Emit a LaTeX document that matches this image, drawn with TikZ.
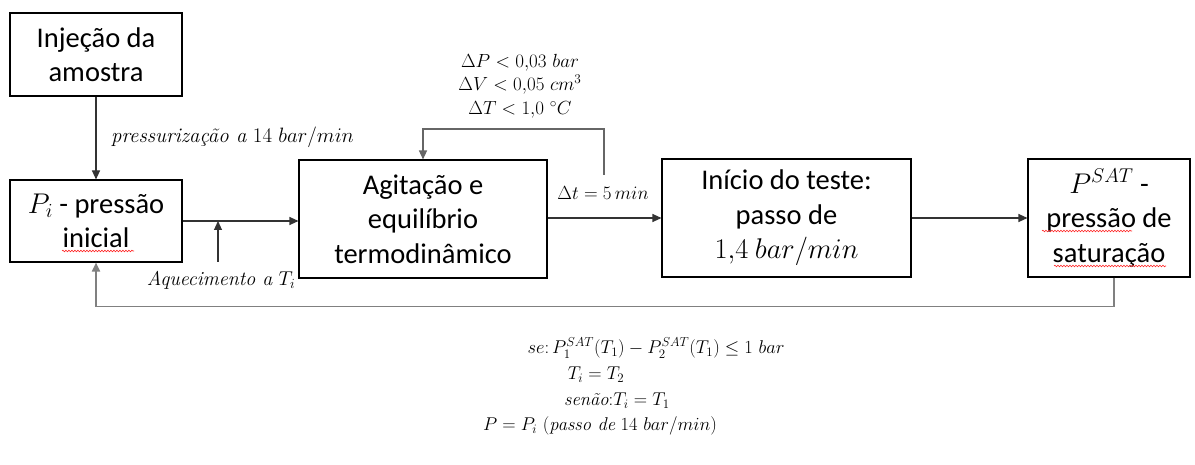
\RequirePackage{fix-cm}
\documentclass[tikz,border=0pt]{standalone}
\usepackage{fontspec}
\newfontfamily\boxfont{Carlito}
\usetikzlibrary{arrows.meta,calc,decorations.pathmorphing}
\tikzset{
  box/.style={draw=black, line width=1.1pt, inner sep=0pt, align=center,
    font=\boxfont\fontsize{28.5}{34.5}\selectfont},
  conn/.style={draw=black!80, line width=1.1pt, -{Triangle[length=9pt,width=8pt]}},
  loopline/.style={draw=black!60, line width=1.3pt, -{Triangle[length=9pt,width=8pt]}},
  fb/.style={draw=black!50, line width=1.8pt, -{Triangle[length=9pt,width=8pt]}},
  lbl/.style={font=\fontsize{19}{23.5}\selectfont, align=center, inner sep=0pt},
  btxt/.style={font=\fontsize{18.5}{22}\selectfont, inner sep=0pt},
  squig/.style={draw=red!85, line width=0.6pt, decorate,
    decoration={snake, amplitude=0.8pt, segment length=3pt}}
}
\begin{document}
\begin{tikzpicture}[x=1pt,y=1pt]
\useasboundingbox[fill=white] (0,0) rectangle (1195,-465);

% boxes
\node[box, minimum width=172pt, minimum height=83pt] (inj) at (96,-54.5) {Injeção da\\amostra};
\node[box, minimum width=172pt, minimum height=82pt] (pi) at (96,-221) {$P_i$ - pressão\\inicial};
\node[box, minimum width=248pt, minimum height=118pt] (agit) at (423,-219) {Agitação e\\equilíbrio\\termodinâmico};
\node[box, minimum width=249pt, minimum height=118pt] (ini) at (786.5,-218) {Início do teste:\\passo de\\$1{,}4\ bar/min$};
\node[box, minimum width=162pt, minimum height=118pt] (psat) at (1109,-218) {$P^{SAT}$ -\\pressão de\\saturação};

% helper coordinates
\coordinate (heat) at (218,-262);
\coordinate (loopS) at (604,-175);
\coordinate (loopT) at (604,-129);

% connectors
\draw[conn] (inj.south) -- (pi.north);
\draw[conn] (pi.east) -- (pi.east -| agit.west);
\draw[conn] (heat) -- (heat |- pi.east);
\draw[loopline] (loopS) -- (loopT) -| (agit.north);
\draw[conn] (agit.east |- ini.west) -- (ini.west);
\draw[conn] (ini.east) -- (psat.west);
\draw[fb] ($(psat.south)+(5,0)$) -- ++(0,-29) -| (pi.south);

% labels
\node[lbl, anchor=west, font=\fontsize{20.8}{24}\selectfont] (lpress) at (111,-137) {\textit{pressurização a} 14 $bar/min$};
\node[lbl, font=\fontsize{20}{24}\selectfont] (lheat) at (221,-280) {\textit{Aquecimento a} $T_i$};
\node[lbl] (lcond) at (520,-86) {$\Delta P < 0{,}03\ bar$\\$\Delta V < 0{,}05\ cm^3$\\$\Delta T < 1{,}0\ {}^{\circ}C$};
\node[lbl] (ldt) at (603,-193) {$\Delta t = 5\,min$};

% bottom text
\node[btxt] (b1) at (656,-348) {$se\colon P_1^{SAT}(T_1) - P_2^{SAT}(T_1) \le 1\ bar$};
\node[btxt] (b2) at (596,-375) {$T_i = T_2$};
\node[btxt] (b3) at (617,-401) {\textit{senão}:$T_i = T_1$};
\node[btxt] (b4) at (600,-426) {$P = P_i\ (\textit{passo de}\ 14\ bar/min)$};

% spell-check underlines
\draw[squig] (62,-251) -- (134,-251);
\draw[squig] (1042,-231) -- (1132,-231);
\draw[squig] (1054,-266) -- (1166,-266);
\end{tikzpicture}
\end{document}
